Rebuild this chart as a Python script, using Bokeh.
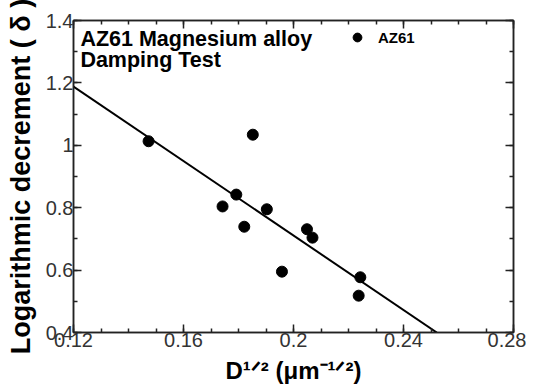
import numpy as np
from bokeh.plotting import figure
from bokeh.models import (Range1d, LinearAxis, FixedTicker, CustomJSTickFormatter,
                          Label, Legend)
from bokeh.embed import file_html
from bokeh.resources import INLINE

# ---- data ----
grain_x = [0.1473, 0.1852, 0.1792, 0.1742, 0.1903, 0.1821, 0.2049, 0.2069, 0.1958, 0.2243, 0.2237]
delta_y = [1.013, 1.034, 0.842, 0.804, 0.795, 0.739, 0.731, 0.704, 0.595, 0.577, 0.518]
series_name = "AZ61"

fit_x = [0.12, 0.2521]
fit_y = [1.188, 0.400]

x_ticks = [0.12, 0.16, 0.2, 0.24, 0.28]
x_tick_labels = ["0.12", "0.16", "0.2", "0.24", "0.28"]
y_ticks = [0.4, 0.6, 0.8, 1.0, 1.2, 1.4]
y_tick_labels = ["0.4", "0.6", "0.8", "1", "1.2", "1.4"]
x_minor = [round(0.12 + 0.01 * i, 2) for i in range(17)]
y_minor = [round(0.4 + 0.1 * i, 1) for i in range(11)]

title_lines = ["AZ61 Magnesium alloy", "Damping Test"]
y_label = "Logarithmic decrement ( δ )"
x_label = "D¹ᐟ² (μm⁻¹ᐟ²)"

FONT = "Liberation Sans"

p = figure(width=526, height=390, output_backend="svg", toolbar_location=None,
           x_range=Range1d(0.12, 0.28), y_range=Range1d(0.4, 1.4),
           min_border_left=73, min_border_right=13, min_border_top=20, min_border_bottom=58,
           x_axis_location=None, y_axis_location=None)
p.xgrid.visible = False
p.ygrid.visible = False
p.outline_line_color = "#222222"
p.outline_line_width = 1.5
p.background_fill_color = "white"
p.border_fill_color = "white"

def style_axis(ax, ticks, minor, labels, show):
    ax.ticker = FixedTicker(ticks=ticks, minor_ticks=minor)
    ax.axis_line_color = "#222222"
    ax.axis_line_width = 1.5
    ax.major_tick_in = 8
    ax.major_tick_out = 0
    ax.minor_tick_in = 4
    ax.minor_tick_out = 0
    ax.major_tick_line_color = "#222222"
    ax.minor_tick_line_color = "#222222"
    ax.major_tick_line_width = 1.5
    ax.minor_tick_line_width = 1.5
    ax.major_label_standoff = 0
    ax.major_label_text_font = FONT
    ax.major_label_text_font_size = "20px"
    ax.major_label_text_color = "#333333"
    if show:
        ax.major_label_overrides = {t: l for t, l in zip(ticks, labels)}
    else:
        ax.formatter = CustomJSTickFormatter(code="return ''")

xb = LinearAxis(); style_axis(xb, x_ticks, x_minor, x_tick_labels, True)
xt = LinearAxis(); style_axis(xt, x_ticks, x_minor, x_tick_labels, False)
yl = LinearAxis(); style_axis(yl, y_ticks, y_minor, y_tick_labels, True)
yr = LinearAxis(); style_axis(yr, y_ticks, y_minor, y_tick_labels, False)

yl.axis_label = y_label
yl.axis_label_text_font = FONT
yl.axis_label_text_font_style = "bold"
yl.axis_label_text_font_size = "27px"
yl.axis_label_text_color = "black"
yl.axis_label_standoff = 7

xb.axis_label = x_label
xb.axis_label_text_font = FONT
xb.axis_label_text_font_style = "bold"
xb.axis_label_text_font_size = "24px"
xb.axis_label_text_color = "black"
xb.axis_label_standoff = 7

p.add_layout(xb, "below")
p.add_layout(xt, "above")
p.add_layout(yl, "left")
p.add_layout(yr, "right")

p.line(fit_x, fit_y, line_color="black", line_width=2)
pts = p.scatter(grain_x, delta_y, size=11, marker="circle", fill_color="black", line_color="black")

legend = Legend(items=[(series_name, [pts])], location=(273, 284))
legend.background_fill_alpha = 0
legend.border_line_alpha = 0
legend.padding = 0
legend.margin = 0
legend.glyph_width = 22
legend.glyph_height = 22
legend.label_standoff = 10
legend.label_text_font = FONT
legend.label_text_font_style = "bold"
legend.label_text_font_size = "15px"
legend.label_text_color = "black"
p.add_layout(legend, "center")

# title text inside plot
p.add_layout(Label(x=0.1225, y=1.342, text=title_lines[0], text_font=FONT, text_font_style="bold",
                   text_font_size="21.5px", text_color="black", text_baseline="alphabetic"))
p.add_layout(Label(x=0.1225, y=1.275, text=title_lines[1], text_font=FONT, text_font_style="bold",
                   text_font_size="21.5px", text_color="black", text_baseline="alphabetic"))

open("out.html", "w").write(file_html(p, INLINE))
